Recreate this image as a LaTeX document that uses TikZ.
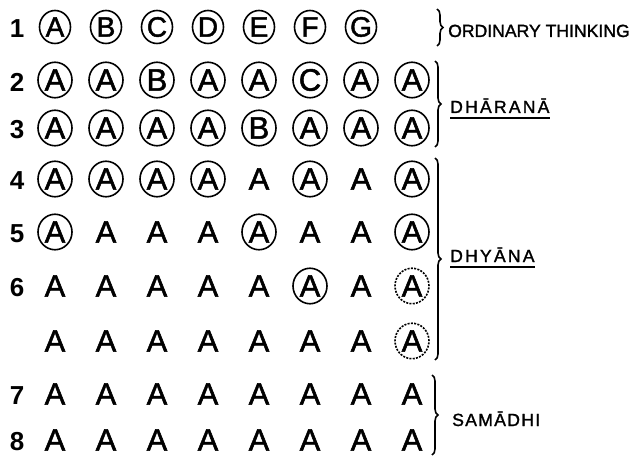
\documentclass[tikz,border=0pt]{standalone}
\usepackage{fontspec}
\setmainfont{Liberation Sans}
\newfontfamily\ltrfont[FakeBold=1.6]{Liberation Sans}
\newfontfamily\lblfont[FakeBold=1.5]{Liberation Sans}
\usetikzlibrary{shapes.geometric,decorations.pathreplacing}
\newcommand\mycell[4]{\node[#1] (r#2c#3) at (c#3 |- r#2) {#4};}
\newcommand\lsp{\kern2.2pt}
\begin{document}
\begin{tikzpicture}[x=1pt,y=-1pt,
  ltr/.style={font=\ltrfont\fontsize{31}{31}\selectfont, inner sep=0pt},
  circd/.style={ltr, draw, ellipse, minimum width=34pt, minimum height=35.5pt, line width=1.6pt},
  circone/.style={draw, ellipse, inner sep=0pt, font=\ltrfont\fontsize{28}{28}\selectfont, minimum width=31pt, minimum height=33pt, line width=1.6pt},
  plainl/.style={ltr},
  dotd/.style={circd, dash pattern=on 2pt off 1.3pt},
  num/.style={font=\bfseries\fontsize{26}{26}\selectfont, inner sep=0pt, yshift=-2pt},
  lbl/.style={font=\lblfont\fontsize{17.6}{18}\selectfont, inner sep=0pt, anchor=base west},
  brc/.style={decorate, decoration={brace, amplitude=6pt}, line width=1.6pt},
  uline/.style={line width=1.8pt}]
\useasboundingbox (0,0) rectangle (634,457);
% columns
\coordinate (c0) at (17,0);
\coordinate (c1) at (55,0);
\coordinate (c2) at (106,0);
\coordinate (c3) at (157,0);
\coordinate (c4) at (208,0);
\coordinate (c5) at (259,0);
\coordinate (c6) at (310,0);
\coordinate (c7) at (361,0);
\coordinate (c8) at (412,0);
% rows
\coordinate (r1) at (0,27);
\coordinate (r2) at (0,80);
\coordinate (r3) at (0,128);
\coordinate (r4) at (0,179);
\coordinate (r5) at (0,232);
\coordinate (r6) at (0,286);
\coordinate (ru) at (0,341);
\coordinate (r7) at (0,394);
\coordinate (r8) at (0,440);
% numbers
\mycell{num}{1}{0}{1}
\mycell{num}{2}{0}{2}
\mycell{num}{3}{0}{3}
\mycell{num}{4}{0}{4}
\mycell{num}{5}{0}{5}
\mycell{num}{6}{0}{6}
\mycell{num}{7}{0}{7}
\mycell{num}{8}{0}{8}
% row 1
\mycell{circone}{1}{1}{A}
\mycell{circone}{1}{2}{B}
\mycell{circone}{1}{3}{C}
\mycell{circone}{1}{4}{D}
\mycell{circone}{1}{5}{E}
\mycell{circone}{1}{6}{F}
\mycell{circone}{1}{7}{G}
% row 2
\mycell{circd}{2}{1}{A}
\mycell{circd}{2}{2}{A}
\mycell{circd}{2}{3}{B}
\mycell{circd}{2}{4}{A}
\mycell{circd}{2}{5}{A}
\mycell{circd}{2}{6}{C}
\mycell{circd}{2}{7}{A}
\mycell{circd}{2}{8}{A}
% row 3
\mycell{circd}{3}{1}{A}
\mycell{circd}{3}{2}{A}
\mycell{circd}{3}{3}{A}
\mycell{circd}{3}{4}{A}
\mycell{circd}{3}{5}{B}
\mycell{circd}{3}{6}{A}
\mycell{circd}{3}{7}{A}
\mycell{circd}{3}{8}{A}
% row 4
\mycell{circd}{4}{1}{A}
\mycell{circd}{4}{2}{A}
\mycell{circd}{4}{3}{A}
\mycell{circd}{4}{4}{A}
\mycell{plainl}{4}{5}{A}
\mycell{circd}{4}{6}{A}
\mycell{plainl}{4}{7}{A}
\mycell{circd}{4}{8}{A}
% row 5
\mycell{circd}{5}{1}{A}
\mycell{plainl}{5}{2}{A}
\mycell{plainl}{5}{3}{A}
\mycell{plainl}{5}{4}{A}
\mycell{circd}{5}{5}{A}
\mycell{plainl}{5}{6}{A}
\mycell{plainl}{5}{7}{A}
\mycell{circd}{5}{8}{A}
% row 6
\mycell{plainl}{6}{1}{A}
\mycell{plainl}{6}{2}{A}
\mycell{plainl}{6}{3}{A}
\mycell{plainl}{6}{4}{A}
\mycell{plainl}{6}{5}{A}
\mycell{circd}{6}{6}{A}
\mycell{plainl}{6}{7}{A}
\mycell{dotd}{6}{8}{A}
% unnumbered row
\mycell{plainl}{u}{1}{A}
\mycell{plainl}{u}{2}{A}
\mycell{plainl}{u}{3}{A}
\mycell{plainl}{u}{4}{A}
\mycell{plainl}{u}{5}{A}
\mycell{plainl}{u}{6}{A}
\mycell{plainl}{u}{7}{A}
\mycell{dotd}{u}{8}{A}
% row 7
\mycell{plainl}{7}{1}{A}
\mycell{plainl}{7}{2}{A}
\mycell{plainl}{7}{3}{A}
\mycell{plainl}{7}{4}{A}
\mycell{plainl}{7}{5}{A}
\mycell{plainl}{7}{6}{A}
\mycell{plainl}{7}{7}{A}
\mycell{plainl}{7}{8}{A}
% row 8
\mycell{plainl}{8}{1}{A}
\mycell{plainl}{8}{2}{A}
\mycell{plainl}{8}{3}{A}
\mycell{plainl}{8}{4}{A}
\mycell{plainl}{8}{5}{A}
\mycell{plainl}{8}{6}{A}
\mycell{plainl}{8}{7}{A}
\mycell{plainl}{8}{8}{A}
% braces
\coordinate (b1t) at (437,9);
\coordinate (b1b) at (437,46);
\coordinate (b2t) at (435,61);
\coordinate (b2b) at (435,147);
\coordinate (b3t) at (435,158);
\coordinate (b3b) at (435,360);
\coordinate (b4t) at (432,375);
\coordinate (b4b) at (432,455);
\draw[brc] (b1t) -- (b1b);
\draw[brc] (b2t) -- (b2b);
\draw[brc] (b3t) -- (b3b);
\draw[brc] (b4t) -- (b4b);
% labels
\node[lbl] (ot) at (448,37) {ORDINARY THINKING};
\node[lbl] (dh) at (450,113) {D\lsp H\lsp \=A\lsp R\lsp A\lsp N\lsp \=A};
\node[lbl] (dy) at (450,262) {D\lsp H\lsp Y\lsp \=A\lsp N\lsp A};
\node[lbl] (sa) at (452,426) {S\kern1.3pt A\kern1.3pt M\kern1.3pt \=A\kern1.3pt D\kern1.3pt H\kern1.3pt I};
\draw[uline] ([yshift=-4.5pt]dh.south west) -- ([yshift=-4.5pt]dh.south east);
\draw[uline] ([yshift=-4.5pt]dy.south west) -- ([yshift=-4.5pt]dy.south east);
\end{tikzpicture}
\end{document}
